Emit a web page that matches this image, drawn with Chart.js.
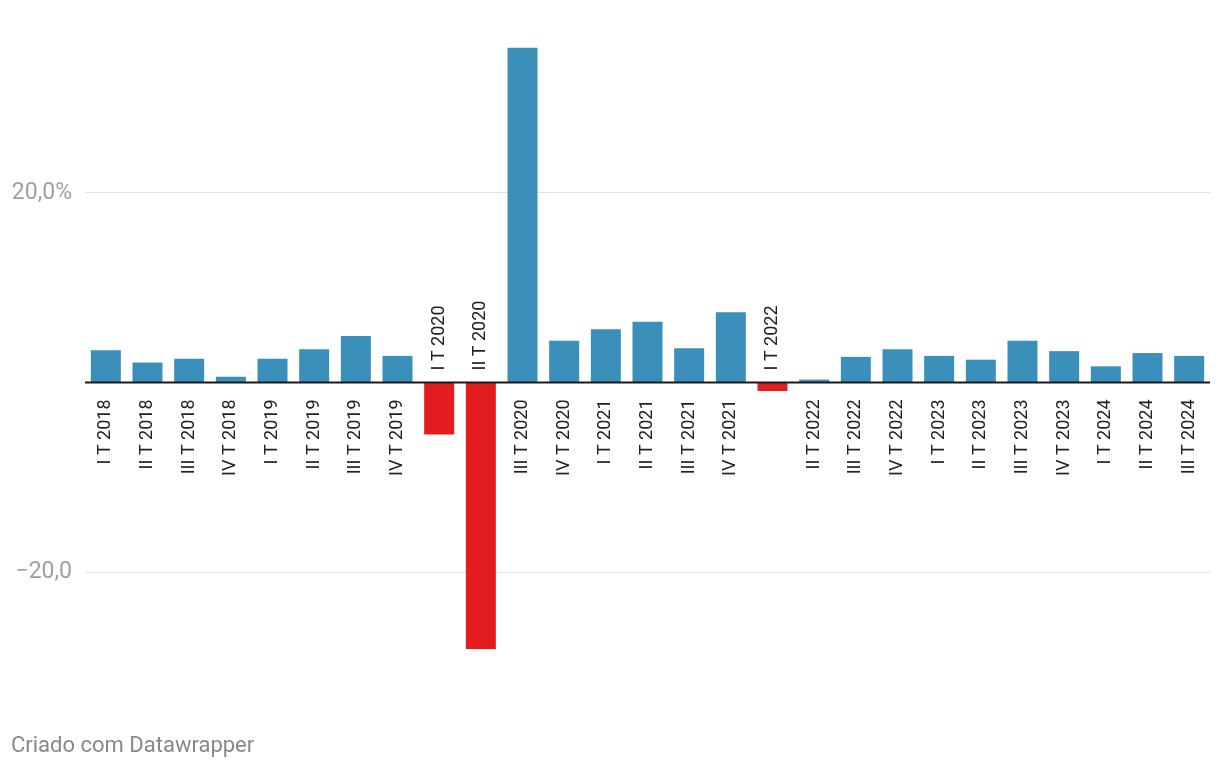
<!DOCTYPE html>
<html>
<head>
<meta charset="utf-8">
<script src="https://cdn.jsdelivr.net/npm/chart.js@4/dist/chart.umd.min.js"></script>
<style>
  html, body { margin: 0; padding: 0; background: #fff; }
  #wrap { width: 1220px; height: 768px; position: relative; }
</style>
</head>
<body>
<div id="wrap"><canvas id="gdpChart"></canvas></div>
<script>
// quarters and quarter-on-quarter change (%)
const quarters = [
  'I T 2018','II T 2018','III T 2018','IV T 2018',
  'I T 2019','II T 2019','III T 2019','IV T 2019',
  'I T 2020','II T 2020','III T 2020','IV T 2020',
  'I T 2021','II T 2021','III T 2021','IV T 2021',
  'I T 2022','II T 2022','III T 2022','IV T 2022',
  'I T 2023','II T 2023','III T 2023','IV T 2023',
  'I T 2024','II T 2024','III T 2024'
];
const changes = [
  3.4, 2.1, 2.5, 0.6,
  2.5, 3.5, 4.9, 2.8,
  -5.5, -28.1, 35.3, 4.4,
  5.6, 6.4, 3.6, 7.4,
  -0.9, 0.3, 2.7, 3.5,
  2.8, 2.4, 4.4, 3.3,
  1.7, 3.1, 2.8
];
const yTicks = [-20, 20];
const yTickLabels = { '-20': '\u221220,0', '20': '20,0%' };

const BLUE = '#3a8fbb';
const RED = '#e31c1d';

// zero line on top of bars, rotated quarter labels, credit line
const quarterLabels = {
  id: 'quarterLabels',
  afterDatasetsDraw(chart) {
    const ctx = chart.ctx;
    const x = chart.scales.x;
    const y = chart.scales.y;
    const zero = y.getPixelForValue(0);
    const area = chart.chartArea;
    ctx.save();
    ctx.strokeStyle = '#1a1a1a';
    ctx.lineWidth = 2;
    ctx.beginPath();
    ctx.moveTo(area.left, zero);
    ctx.lineTo(area.right, zero);
    ctx.stroke();

    ctx.font = '18px Roboto';
    ctx.fillStyle = '#222';
    ctx.textBaseline = 'middle';
    quarters.forEach((q, i) => {
      const px = x.getPixelForValue(i);
      ctx.save();
      if (changes[i] >= 0) {
        ctx.translate(px, zero + 17);
        ctx.rotate(-Math.PI / 2);
        ctx.textAlign = 'right';
      } else {
        ctx.translate(px, zero - 12);
        ctx.rotate(-Math.PI / 2);
        ctx.textAlign = 'left';
      }
      ctx.fillText(q, 0, 0);
      ctx.restore();
    });
    ctx.font = '22px Roboto';
    ctx.fillStyle = '#888';
    ctx.textAlign = 'left';
    ctx.textBaseline = 'alphabetic';
    ctx.fillText('Criado com Datawrapper', 11, 752);
    ctx.restore();
  }
};

new Chart(document.getElementById('gdpChart'), {
  type: 'bar',
  data: {
    labels: quarters,
    datasets: [{
      data: changes,
      backgroundColor: changes.map(v => v < 0 ? RED : BLUE),
      borderWidth: 0,
      categoryPercentage: 1,
      barPercentage: 0.72
    }]
  },
  options: {
    responsive: true,
    maintainAspectRatio: false,
    animation: false,
    layout: { padding: { top: 41, bottom: 101, left: 0, right: 10 } },
    plugins: { legend: { display: false }, tooltip: { enabled: false } },
    scales: {
      x: { display: false },
      y: {
        min: -30,
        max: 36,
        afterFit(scale) { scale.width = 85; },
        afterBuildTicks(scale) { scale.ticks = yTicks.map(v => ({ value: v })); },
        border: { display: false },
        grid: { drawTicks: false, color: '#e0e0e0', lineWidth: 1 },
        ticks: {
          padding: 13,
          color: '#a0a0a0',
          font: { family: 'Roboto', size: 23 },
          callback: v => yTickLabels[String(v)]
        }
      }
    }
  },
  plugins: [quarterLabels]
});
</script>
</body>
</html>
